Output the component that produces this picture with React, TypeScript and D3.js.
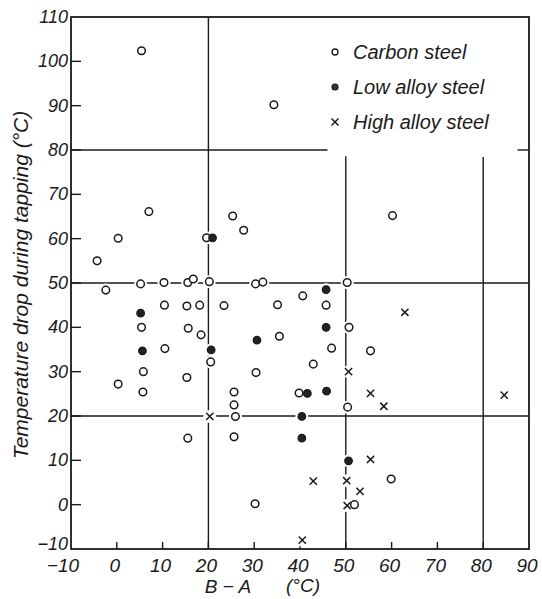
import * as d3 from 'd3'

// B - A (°C) vs temperature drop during tapping (°C)
const carbonX = [5.4, 34.3, 7.0, 0.3, -4.3, -2.4, 19.6, 25.3, 27.7, 5.2, 10.3, 15.5, 16.7, 20.2, 30.3, 31.9, 50.3, 40.6, 60.2,
  5.4, 5.8, 5.7, 0.3, 10.4, 10.5, 15.3, 18.1, 15.6, 18.4, 20.5, 15.3, 23.4, 15.5, 25.6, 25.6, 25.9, 25.6, 30.4, 30.2, 35.1, 35.5,
  45.7, 50.7, 46.9, 55.4, 42.9, 39.8, 50.4, 59.9, 51.9]
const carbonY = [102.4, 90.2, 66.1, 60.1, 55.0, 48.4, 60.2, 65.1, 61.9, 49.8, 50.1, 50.1, 50.9, 50.3, 49.8, 50.2, 50.1, 47.1, 65.2,
  40.0, 30.0, 25.4, 27.2, 45.0, 35.2, 44.8, 45.0, 39.8, 38.3, 32.2, 28.7, 44.9, 15.0, 25.4, 22.5, 19.9, 15.3, 29.8, 0.2, 45.1, 38.0,
  45.0, 40.0, 35.3, 34.7, 31.7, 25.2, 22.0, 5.8, 0.0]

const lowX = [20.9, 45.7, 5.2, 5.6, 20.6, 30.6, 45.7, 41.6, 45.8, 40.4, 40.4, 50.6]
const lowY = [60.2, 48.5, 43.2, 34.7, 34.9, 37.1, 40.0, 25.1, 25.6, 19.9, 15.0, 9.9]

const highX = [20.3, 62.9, 50.6, 55.4, 58.3, 84.6, 55.4, 42.9, 50.2, 53.1, 50.3, 40.5]
const highY = [19.9, 43.4, 30.0, 25.1, 22.2, 24.7, 10.2, 5.3, 5.4, 3.0, -0.2, -8.0]

const xTicks = [-10, 0, 10, 20, 30, 40, 50, 60, 70, 80, 90]
const yTicks = [-10, 0, 10, 20, 30, 40, 50, 60, 70, 80, 90, 100, 110]

// guide lines: [x1, y1, x2, y2] in data units
const guides = [
  [-10, 80, 46, 80],
  [87.5, 80, 90, 80],
  [-10, 50, 90, 50],
  [-10, 20, 90, 20],
  [20, -10, 20, 110],
  [50, -10, 50, 78.6],
  [80, -10, 80, 78.4],
]

const legendLabels = ['Carbon steel', 'Low alloy steel', 'High alloy steel']

const FONT = "'Liberation Sans', Arimo, Arial, sans-serif"
const INK = '#1a1a1a'

function Cross({ cx, cy, s }: { cx: number; cy: number; s: number }) {
  return (
    <g stroke={INK} strokeWidth={1.5}>
      <line x1={cx - s} y1={cy - s} x2={cx + s} y2={cy + s} />
      <line x1={cx - s} y1={cy + s} x2={cx + s} y2={cy - s} />
    </g>
  )
}

const fmt = (t: number) => (t < 0 ? '−' + Math.abs(t) : String(t))

export default function App() {
  const width = 542
  const height = 599
  const x = d3.scaleLinear().domain([-10, 90]).range([71, 529])
  const y = d3.scaleLinear().domain([-10, 110]).range([549, 17])

  const carbon = carbonX.map((v, i) => [v, carbonY[i]])
  const low = lowX.map((v, i) => [v, lowY[i]])
  const high = highX.map((v, i) => [v, highY[i]])

  return (
    <svg width={width} height={height} style={{ position: 'absolute', left: 0, top: 0, background: '#fff' }}>
      {/* guide lines */}
      <g stroke={INK} strokeWidth={1.4}>
        {guides.map((g, i) => (
          <line key={i} x1={x(g[0])} y1={y(g[1])} x2={x(g[2])} y2={y(g[3])} />
        ))}
      </g>

      {/* frame */}
      <rect x={x(-10)} y={y(110)} width={x(90) - x(-10)} height={y(-10) - y(110)} fill="none" stroke={INK} strokeWidth={1.8} />

      {/* ticks */}
      <g stroke={INK} strokeWidth={1.4}>
        {yTicks.slice(1, -1).map((t) => (
          <line key={t} x1={x(-10)} y1={y(t)} x2={x(-10) + 10} y2={y(t)} />
        ))}
        {xTicks.slice(1, -1).map((t) => (
          <line key={t} x1={x(t)} y1={y(-10)} x2={x(t)} y2={y(-10) - 7} />
        ))}
      </g>

      {/* tick labels */}
      <g fontFamily={FONT} fontStyle="italic" fontSize={18} fill={INK}>
        {yTicks.map((t) => (
          <text key={t} x={x(-10) - 3} y={y(t) - (t < 0 ? 5 : 0)} textAnchor="end" dominantBaseline="central">
            {fmt(t)}
          </text>
        ))}
      </g>
      <g fontFamily={FONT} fontStyle="italic" fontSize={19} fill={INK}>
        {xTicks.map((t) => (
          <text key={t} x={x(t) + (t < 0 ? -8 : -2)} y={565} textAnchor="middle" dominantBaseline="central">
            {fmt(t)}
          </text>
        ))}
      </g>

      {/* axis titles */}
      <g fontFamily={FONT} fontStyle="italic" fontSize={19} fill={INK}>
        <text x={228} y={593} textAnchor="middle">B − A</text>
        <text x={303} y={592} textAnchor="middle">(°C)</text>
        <text transform="translate(28,285) rotate(-90)" textAnchor="middle" fontSize={21}>
          Temperature drop during tapping (°C)
        </text>
      </g>

      {/* white halos break the guide lines around markers */}
      <g fill="#fff">
        {[...carbon, ...low, ...high].map((d, i) => (
          <circle key={i} cx={x(d[0])} cy={y(d[1])} r={6.5} />
        ))}
      </g>

      {carbon.map((d, i) => (
        <circle key={'c' + i} cx={x(d[0])} cy={y(d[1])} r={3.8} fill="#fff" stroke={INK} strokeWidth={1.5} />
      ))}
      {low.map((d, i) => (
        <circle key={'l' + i} cx={x(d[0])} cy={y(d[1])} r={3.8} fill="#222" stroke={INK} strokeWidth={1.2} />
      ))}
      {high.map((d, i) => (
        <Cross key={'h' + i} cx={x(d[0])} cy={y(d[1])} s={3.6} />
      ))}

      {/* legend */}
      <g fontFamily={FONT} fontStyle="italic" fontSize={20} fill={INK}>
        {legendLabels.map((lab, i) => {
          const ly = 52 + i * 35
          return (
            <g key={lab}>
              {i === 0 && <circle cx={335} cy={ly} r={3} fill="#fff" stroke={INK} strokeWidth={1.3} />}
              {i === 1 && <circle cx={335} cy={ly} r={3} fill="#333" stroke={INK} strokeWidth={1.2} />}
              {i === 2 && <Cross cx={335} cy={ly} s={3.5} />}
              <text x={353} y={ly} dominantBaseline="central">{lab}</text>
            </g>
          )
        })}
      </g>
    </svg>
  )
}
